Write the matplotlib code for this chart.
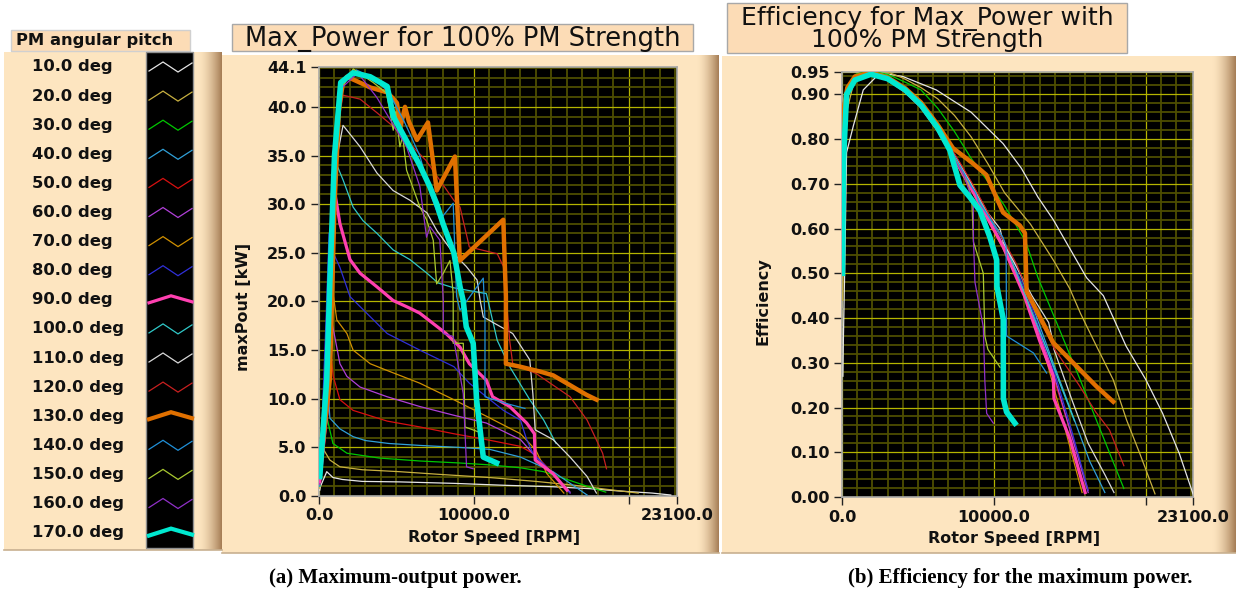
import numpy as np
import matplotlib.pyplot as plt
from matplotlib.patches import Rectangle
from matplotlib.ticker import MultipleLocator, FixedLocator

# ---- data ----
pitch_deg = [10, 20, 30, 40, 50, 60, 70, 80, 90, 100, 110, 120, 130, 140, 150, 160, 170]
line_colors = ['#e6e6e6', '#c8b040', '#00c800', '#30a0d8', '#d81010', '#b040d8', '#d09000', '#3030d8',
               '#ff40b0', '#30c8c8', '#d8d8d8', '#c82020', '#e07000', '#2090d8', '#a8c830', '#9030c8',
               '#00e8d0']
line_widths = [0.9, 0.9, 0.9, 0.9, 0.9, 0.9, 0.9, 0.9, 2.3, 0.9, 0.9, 0.9, 3.2, 0.9, 0.9, 0.9, 4.0]

# max output power [kW] against rotor speed [rpm]
power_rpm = [
    [50, 100, 500, 900, 1500, 2800, 5200, 8700, 12000, 15100, 17500, 19500, 21500, 22700],
    [50, 200, 400, 700, 1350, 2800, 5200, 8000, 11000, 14000, 16500, 18500, 20600],
    [50, 200, 450, 900, 1800, 3900, 6500, 9000, 11000, 13000, 14500, 16200, 17300, 18500],
    [50, 250, 500, 700, 1350, 2200, 3000, 4500, 6500, 9000, 11000, 13000, 15100, 16300, 17300],
    [50, 300, 600, 920, 1350, 2200, 4400, 6500, 8700, 10800, 13000, 14000, 15100, 16200],
    [50, 350, 700, 1350, 1800, 2650, 4400, 6500, 8700, 10800, 13000, 14000, 15100, 16200],
    [50, 400, 800, 1150, 1800, 2200, 3300, 4400, 6500, 8700, 10800, 13000, 14000, 14700, 15800],
    [50, 450, 650, 920, 1350, 2000, 4400, 6500, 8700, 9700, 10800, 11900, 13000, 13400, 13800, 15100, 16200],
    [50, 600, 900, 1030, 1350, 2000, 2650, 3740, 4780, 5870, 6500, 8200, 9100, 9700, 10800, 11200, 12300,
     13400, 13900, 13950, 15100, 16000],
    [50, 500, 1030, 1550, 2200, 2840, 3740, 4780, 5870, 6970, 7680, 8700, 10800, 11500, 12300, 13600,
     14500, 15300],
    [50, 600, 1000, 1550, 2650, 3740, 4780, 5870, 6970, 7600, 8700, 9500, 10200, 10400, 10600, 12500, 13600,
     13800, 13950, 15100, 16200, 17300, 17900],
    [50, 600, 1000, 1550, 2650, 3740, 4780, 5870, 6900, 8700, 9100, 9700, 11500, 11900, 12100, 12300,
     12500, 14000, 16200, 17300, 18300, 18550],
    [50, 700, 1000, 1300, 1550, 1800, 2500, 3300, 4380, 4700, 5030, 5250, 5550, 5800, 6320, 7030, 7600,
     8770, 9090, 11890, 12060, 12060, 12960, 14250, 15110, 16190, 17260, 17910],
    [50, 600, 1000, 1500, 2400, 3500, 4500, 5500, 6500, 7200, 7800, 8660, 8770, 8880, 9100, 10600, 10710,
     10710, 12100, 13290],
    [50, 600, 1000, 1500, 2210, 3500, 4360, 4790, 4950, 5220, 5400, 5650, 6510, 6940, 7370, 7590, 8020,
     8450, 8660, 8660, 9310, 9420, 10270],
    [50, 600, 1000, 1500, 2500, 3720, 4360, 5650, 6510, 6940, 7160, 7800, 8020, 8020, 8660, 9310, 9520,
     9950],
    [50, 500, 700, 1000, 1400, 2200, 3300, 4400, 4800, 5650, 6500, 7150, 7600, 8000, 8700, 9100, 9300,
     9500, 9950, 10170, 10600, 11460],
]
power_kw = [
    [0.6, 1.0, 2.5, 1.9, 1.7, 1.5, 1.45, 1.3, 1.1, 0.95, 0.75, 0.5, 0.3, 0.1],
    [0.8, 5.0, 4.5, 3.7, 3.0, 2.7, 2.5, 2.2, 1.9, 1.5, 1.1, 0.7, 0.3],
    [1.0, 5.0, 8.5, 5.4, 4.4, 3.9, 3.6, 3.4, 3.2, 2.9, 2.5, 1.6, 1.0, 0.4],
    [1.0, 8.0, 13.0, 8.0, 6.9, 6.1, 5.7, 5.4, 5.2, 5.0, 4.8, 4.0, 2.5, 1.2, 0.1],
    [1.2, 10.0, 17.0, 12.3, 9.9, 8.8, 7.7, 7.1, 6.4, 5.8, 5.1, 4.2, 2.3, 0.3],
    [1.2, 12.0, 19.0, 13.6, 12.3, 11.2, 10.2, 9.2, 8.3, 7.5, 5.8, 4.0, 2.3, 0.4],
    [1.5, 14.0, 22.0, 18.1, 16.7, 15.0, 13.6, 12.9, 11.6, 9.9, 8.2, 6.4, 4.7, 2.3, 0.3],
    [1.5, 18.0, 27.0, 25.0, 23.5, 20.5, 16.7, 15.0, 13.3, 11.6, 10.2, 8.8, 7.8, 5.8, 4.4, 2.3, 0.3],
    [1.5, 10.0, 25.0, 31.1, 28.0, 24.3, 22.9, 21.5, 20.1, 19.3, 18.8, 16.7, 15.3, 13.6, 11.9, 10.2, 9.2,
     7.5, 6.4, 3.7, 2.3, 0.6],
    [2.0, 15.0, 34.5, 32.5, 29.7, 28.3, 27.0, 25.3, 24.3, 22.9, 21.9, 21.4, 20.8, 16.0, 13.3, 9.9, 7.8, 5.4],
    [2.0, 15.0, 33.5, 38.1, 35.9, 33.2, 31.4, 30.4, 29.1, 27.3, 24.9, 23.6, 22.2, 20.1, 18.4, 16.7, 14.0,
     10.5, 6.8, 5.8, 4.0, 2.0, 0.3],
    [2.0, 18.0, 36.0, 41.2, 40.8, 39.4, 38.0, 36.2, 34.5, 30.4, 29.7, 25.6, 24.9, 23.6, 20.1, 16.0, 13.6,
     12.6, 10.2, 7.8, 4.4, 2.8],
    [2.5, 12.0, 30.0, 40.0, 42.5, 43.1, 42.6, 42.0, 41.5, 41.0, 40.4, 37.9, 40.0, 38.5, 36.6, 38.4, 31.4,
     34.9, 24.2, 28.4, 20.5, 13.6, 13.3, 12.8, 12.4, 11.4, 10.4, 9.9],
    [2.0, 16.0, 36.0, 42.5, 43.8, 43.0, 41.5, 38.5, 35.0, 31.0, 28.4, 30.1, 24.9, 20.5, 19.1, 22.4, 18.1,
     10.2, 9.5, 9.0],
    [2.0, 15.0, 35.0, 42.0, 43.9, 42.5, 41.4, 37.6, 39.5, 35.9, 37.0, 33.5, 29.7, 28.4, 26.3, 21.8, 22.9,
     24.2, 20.8, 15.7, 15.7, 7.1, 6.6],
    [2.0, 15.0, 35.0, 42.0, 43.5, 41.0, 39.3, 35.9, 31.8, 26.6, 27.7, 26.3, 20.1, 16.7, 16.4, 10.5, 3.0,
     2.8],
    [2.0, 12.0, 22.0, 35.0, 42.5, 43.5, 43.1, 42.1, 39.0, 36.5, 34.0, 31.8, 30.0, 28.0, 25.0, 21.5, 20.1,
     17.4, 15.7, 9.9, 4.0, 3.4],
]

# efficiency at max power against rotor speed [rpm]
eff_rpm = [
    [60, 90, 200, 300, 750, 1400, 2500, 4000, 6200, 8500, 10600, 11800, 12900, 13900, 15000, 16100, 17200,
     18700, 20000, 21100, 22200, 23100],
    [50, 150, 300, 800, 1840, 3000, 4040, 5200, 6300, 7400, 8500, 9600, 10700, 12400, 13900, 15000, 15700,
     16750, 17850, 18730, 19600, 20600],
    [40, 150, 400, 900, 1800, 3000, 4300, 5200, 6300, 7400, 8500, 9600, 10700, 12100, 12900, 14000, 15700,
     17000, 18550],
    [30, 120, 350, 850, 1900, 3000, 4150, 5200, 6300, 7400, 8500, 9600, 10600, 11700, 12400, 13900, 15100,
     16300, 17300],
    [30, 120, 350, 850, 1800, 3000, 4150, 5200, 6300, 7400, 8500, 9600, 10600, 11700, 12400, 13000, 13900,
     15100, 16200],
    [30, 120, 350, 850, 1800, 3000, 4150, 5200, 6300, 7400, 8500, 9600, 10600, 11700, 12300, 13800, 15000,
     16200],
    [30, 120, 350, 850, 1800, 3000, 4150, 5200, 6300, 7400, 8500, 9600, 10600, 11700, 12200, 13500, 14700,
     15800],
    [30, 120, 350, 850, 1900, 3000, 4150, 5200, 6300, 7400, 8500, 9600, 10600, 11700, 12300, 13800, 15100,
     16200],
    [30, 120, 350, 850, 1800, 3000, 4150, 5200, 6300, 7400, 8500, 9600, 10600, 12000, 13000, 13900, 13950,
     15000, 16000],
    [30, 120, 350, 850, 1800, 3000, 4150, 5200, 6300, 7400, 8500, 9600, 10600, 11500, 12300, 13600, 14500,
     15300],
    [30, 150, 400, 900, 1900, 3000, 4150, 5200, 6300, 7400, 8500, 9600, 10400, 10600, 12500, 13600, 13800,
     13950, 15100, 16200, 17300, 17900],
    [30, 120, 350, 850, 1900, 3000, 4150, 5200, 6300, 7400, 8500, 9700, 11500, 12100, 12500, 14000, 15600,
     16700, 17600, 18550],
    [30, 120, 350, 850, 1900, 3000, 4150, 5200, 6300, 7300, 8640, 9500, 10600, 11700, 12040, 12150, 13900,
     15440, 16750, 17850],
    [30, 120, 350, 850, 1900, 3000, 4150, 5200, 6300, 7400, 8500, 8800, 9000, 10600, 10800, 10830, 12600,
     13465],
    [30, 120, 350, 850, 1800, 3000, 4150, 5200, 6300, 7400, 8300, 8550, 8650, 9300, 9400, 9600, 10400],
    [30, 120, 350, 850, 1800, 3000, 4150, 5200, 6300, 7400, 8000, 8640, 8650, 8750, 9300, 9400, 9520, 9960],
    [30, 100, 300, 850, 1900, 3000, 4150, 5200, 6300, 7100, 7760, 8420, 9080, 9740, 10180, 10200, 10615,
     10620, 10830, 11380],
]
eff_val = [
    [0.27, 0.35, 0.55, 0.77, 0.83, 0.91, 0.948, 0.94, 0.91, 0.86, 0.79, 0.735, 0.67, 0.62, 0.555, 0.49,
     0.45, 0.337, 0.262, 0.187, 0.097, 0.007],
    [0.44, 0.70, 0.86, 0.93, 0.955, 0.95, 0.936, 0.915, 0.89, 0.853, 0.805, 0.745, 0.68, 0.61, 0.53,
     0.465, 0.41, 0.337, 0.262, 0.172, 0.097, 0.007],
    [0.55, 0.84, 0.92, 0.945, 0.953, 0.945, 0.925, 0.91, 0.869, 0.817, 0.757, 0.705, 0.651, 0.57, 0.49,
     0.40, 0.26, 0.15, 0.019],
    [0.62, 0.86, 0.905, 0.935, 0.948, 0.937, 0.912, 0.878, 0.828, 0.765, 0.70, 0.632, 0.575, 0.50, 0.44,
     0.30, 0.19, 0.08, 0.01],
    [0.58, 0.85, 0.90, 0.933, 0.946, 0.934, 0.908, 0.874, 0.822, 0.758, 0.692, 0.625, 0.565, 0.485, 0.425,
     0.36, 0.27, 0.14, 0.015],
    [0.60, 0.86, 0.905, 0.934, 0.945, 0.933, 0.906, 0.872, 0.82, 0.755, 0.69, 0.622, 0.56, 0.48, 0.43,
     0.29, 0.15, 0.01],
    [0.60, 0.86, 0.91, 0.936, 0.945, 0.932, 0.905, 0.87, 0.817, 0.752, 0.686, 0.618, 0.555, 0.475, 0.43,
     0.30, 0.15, 0.01],
    [0.62, 0.87, 0.91, 0.937, 0.947, 0.935, 0.91, 0.876, 0.825, 0.762, 0.697, 0.628, 0.565, 0.49, 0.44,
     0.30, 0.15, 0.015],
    [0.60, 0.86, 0.91, 0.936, 0.946, 0.934, 0.907, 0.873, 0.821, 0.757, 0.69, 0.622, 0.56, 0.45, 0.35,
     0.27, 0.22, 0.13, 0.01],
    [0.55, 0.85, 0.905, 0.935, 0.946, 0.935, 0.91, 0.877, 0.826, 0.763, 0.698, 0.63, 0.575, 0.50, 0.43,
     0.32, 0.24, 0.17],
    [0.60, 0.86, 0.91, 0.937, 0.948, 0.937, 0.912, 0.879, 0.829, 0.766, 0.702, 0.635, 0.60, 0.57, 0.45,
     0.39, 0.36, 0.33, 0.22, 0.12, 0.05, 0.01],
    [0.62, 0.86, 0.91, 0.937, 0.948, 0.937, 0.913, 0.88, 0.83, 0.768, 0.705, 0.63, 0.52, 0.47, 0.43, 0.33,
     0.25, 0.19, 0.15, 0.07],
    [0.65, 0.87, 0.915, 0.94, 0.949, 0.938, 0.914, 0.882, 0.832, 0.78, 0.745, 0.72, 0.636, 0.607, 0.59,
     0.46, 0.345, 0.292, 0.247, 0.213],
    [0.60, 0.86, 0.905, 0.935, 0.947, 0.935, 0.91, 0.876, 0.825, 0.762, 0.695, 0.68, 0.66, 0.58, 0.56,
     0.36, 0.322, 0.277],
    [0.55, 0.85, 0.905, 0.934, 0.945, 0.933, 0.908, 0.874, 0.822, 0.758, 0.70, 0.66, 0.57, 0.50, 0.36,
     0.33, 0.29],
    [0.58, 0.85, 0.90, 0.932, 0.944, 0.932, 0.906, 0.872, 0.82, 0.755, 0.72, 0.66, 0.577, 0.48, 0.38, 0.26,
     0.187, 0.165],
    [0.50, 0.75, 0.90, 0.932, 0.945, 0.935, 0.91, 0.876, 0.825, 0.775, 0.697, 0.67, 0.64, 0.58, 0.53, 0.47,
     0.397, 0.22, 0.19, 0.165],
]

x_ticks = [0, 10000, 20000, 23100]
x_ticklabels = ['0.0', '10000.0', '', '23100.0']
p_ticks = [0, 5, 10, 15, 20, 25, 30, 35, 40, 44.1]
e_ticks = [0, 0.1, 0.2, 0.3, 0.4, 0.5, 0.6, 0.7, 0.8, 0.9, 0.95]

# ---- figure in pixel units ----
W, H = 1236, 594
fig = plt.figure(figsize=(W / 100, H / 100), dpi=100)
fig.patch.set_facecolor('white')

bg = fig.add_axes([0, 0, 1, 1], zorder=0)
bg.axis('off')

PEACH = '#fde5c0'
BOX = '#fcdcb6'


def panel(x0, y0, x1, y1, bevel=22):
    bg.add_patch(Rectangle((x0, y0), x1 - x0, y1 - y0, facecolor=PEACH, edgecolor='none', zorder=1))
    t = np.linspace(0, 1, 60) ** 1.6
    c0 = np.array([253, 229, 192]) / 255
    c1 = np.array([165, 125, 85]) / 255
    cols = c0[None, :] * (1 - t[:, None]) + c1[None, :] * t[:, None]
    bg.imshow(cols[None, :, :], extent=[x1 - bevel, x1, y1, y0], aspect='auto', zorder=1.5,
              interpolation='bilinear')
    bg.plot([x0, x1], [y1, y1], color='#c8b090', lw=1.2, zorder=1.6)


def title_box(x0, y0, x1, y1, text, size):
    bg.add_patch(Rectangle((x0, y0), x1 - x0, y1 - y0, facecolor=BOX, edgecolor='#a8a8a8', lw=1, zorder=2))
    bg.text((x0 + x1) / 2, (y0 + y1) / 2 + 1, text, ha='center', va='center', fontsize=size,
            color='#111111', linespacing=0.88, zorder=3)


panel(4, 52, 222, 550, bevel=24)
panel(222, 55, 719, 553)
panel(722, 56, 1236, 553, bevel=24)

# legend
bg.add_patch(Rectangle((11, 30), 179, 21, facecolor=BOX, edgecolor='#d0d0d0', lw=1, zorder=2))
bg.text(16, 41, 'PM angular pitch', ha='left', va='center', fontsize=11.8, fontweight='bold',
        color='#111111', zorder=3)
bg.add_patch(Rectangle((146, 52), 47, 496, facecolor='black', edgecolor='#909090', lw=1, zorder=2))
for i, deg in enumerate(pitch_deg):
    yc = 67 + i * 29.1
    bg.text(32, yc, f'{deg:.1f} deg', ha='left', va='center', fontsize=11.8, fontweight='bold',
            color='#111111', zorder=3)
    if line_widths[i] > 2:
        kx = [149, 171, 192]
        ky = [yc + 3, yc - 4, yc + 2]
    else:
        kx = [149, 163, 178, 192]
        ky = [yc + 4, yc - 5, yc + 5, yc - 4]
    bg.plot(kx, ky, color=line_colors[i], lw=min(line_widths[i], 3.0), zorder=3,
            solid_joinstyle='miter')

title_box(232, 24, 693, 51, 'Max_Power for 100% PM Strength', 18.5)
title_box(727, 3, 1127, 53, 'Efficiency for Max_Power with\n100% PM Strength', 18)

bg.text(395, 578, '(a) Maximum-output power.', ha='center', va='center', fontsize=15,
        fontweight='bold', family='Liberation Serif', color='black')
bg.text(1020, 578, '(b) Efficiency for the maximum power.', ha='center', va='center', fontsize=15,
        fontweight='bold', family='Liberation Serif', color='black')

bg.set_xlim(0, W)
bg.set_ylim(H, 0)


def px_box(x0, y0, x1, y1):
    return [x0 / W, 1 - y1 / H, (x1 - x0) / W, (y1 - y0) / H]


def style_axes(ax, yticks, ylabels, ymax, yminor, ylabel, ylab_x, ylab_y):
    ax.set_facecolor('black')
    ax.set_xlim(0, 23100)
    ax.set_ylim(0, ymax)
    ax.xaxis.set_major_locator(FixedLocator(x_ticks))
    ax.set_xticklabels(x_ticklabels)
    ax.xaxis.set_minor_locator(MultipleLocator(1000))
    ax.yaxis.set_major_locator(FixedLocator(yticks))
    ax.set_yticklabels(ylabels)
    ax.yaxis.set_minor_locator(MultipleLocator(yminor))
    ax.grid(which='minor', color='#4e4e00', lw=1.3)
    ax.grid(which='major', color='#b4b400', lw=0.9)
    ax.set_axisbelow(True)
    ax.tick_params(which='minor', length=0)
    ax.tick_params(which='major', direction='out', length=6, width=1, color='#222222', pad=3)
    for lab in ax.get_xticklabels() + ax.get_yticklabels():
        lab.set_fontweight('bold')
        lab.set_fontsize(11.5)
        lab.set_color('#111111')
    for s in ax.spines.values():
        s.set_color('#a8a8a8')
        s.set_linewidth(1.2)
    ax.set_xlabel('Rotor Speed [RPM]', fontsize=11.5, fontweight='bold', color='#111111')
    ax.xaxis.set_label_coords(0.49, -0.08)
    ax.set_ylabel(ylabel, fontsize=11.5, fontweight='bold', color='#111111')
    ax.yaxis.set_label_coords(ylab_x, ylab_y)


ax1 = fig.add_axes(px_box(319, 67, 677, 496), zorder=2)
for i in range(len(pitch_deg)):
    ax1.plot(power_rpm[i], power_kw[i], color=line_colors[i], lw=line_widths[i],
             solid_joinstyle='round', zorder=3 + i * 0.01)
style_axes(ax1, p_ticks, [f'{v:.1f}' for v in p_ticks], 44.1, 1, 'maxPout [kW]', -0.19, 0.44)

ax2 = fig.add_axes(px_box(842, 72, 1193, 497), zorder=2)
for i in range(len(pitch_deg)):
    ax2.plot(eff_rpm[i], eff_val[i], color=line_colors[i], lw=line_widths[i],
             solid_joinstyle='round', zorder=3 + i * 0.01)
style_axes(ax2, e_ticks, [f'{v:.2f}' for v in e_ticks], 0.95, 0.02, 'Efficiency', -0.205, 0.46)

fig.savefig('out.png', dpi=100)
